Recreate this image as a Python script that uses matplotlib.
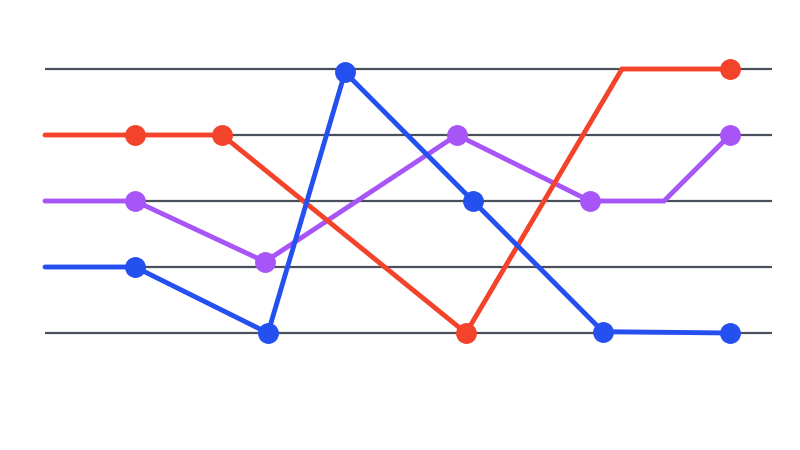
import matplotlib.pyplot as plt

red_x = [45, 135, 222, 466, 622, 730]
red_y = [3, 3, 3, 0, 4, 4]
red_marks = [1, 2, 3, 5]

purple_x = [45, 135, 265, 457, 590, 664, 730]
purple_y = [2, 2, 1.08, 3, 2, 2, 3]
purple_marks = [1, 2, 3, 4, 6]

blue_x = [45, 135, 268, 345, 473, 603, 730]
blue_y = [1, 1, 0, 3.95, 2, 0.02, 0]
blue_marks = [1, 2, 3, 4, 5, 6]

levels = [0, 1, 2, 3, 4]

fig = plt.figure(figsize=(8, 4.5), dpi=100)
ax = fig.add_axes([0, 0, 1, 1])
ax.set_xlim(0, 800)
ax.set_ylim((333 - 450) / 66, 333 / 66)
ax.axis('off')

for lv in levels:
    ax.plot([45, 772], [lv, lv], color='#4a4f5c', lw=1.6, zorder=1, solid_capstyle='butt')

series = [
    (purple_x, purple_y, purple_marks, '#a855f7'),
    (red_x, red_y, red_marks, '#f4432b'),
    (blue_x, blue_y, blue_marks, '#2450f0'),
]
for i, (xs, ys, mk, c) in enumerate(series):
    ax.plot(xs, ys, color=c, lw=3.5, marker='o', markersize=14, markevery=mk,
            solid_joinstyle='miter', solid_capstyle='round', zorder=2 + i)

fig.savefig('out.png', dpi=100, facecolor='white')
